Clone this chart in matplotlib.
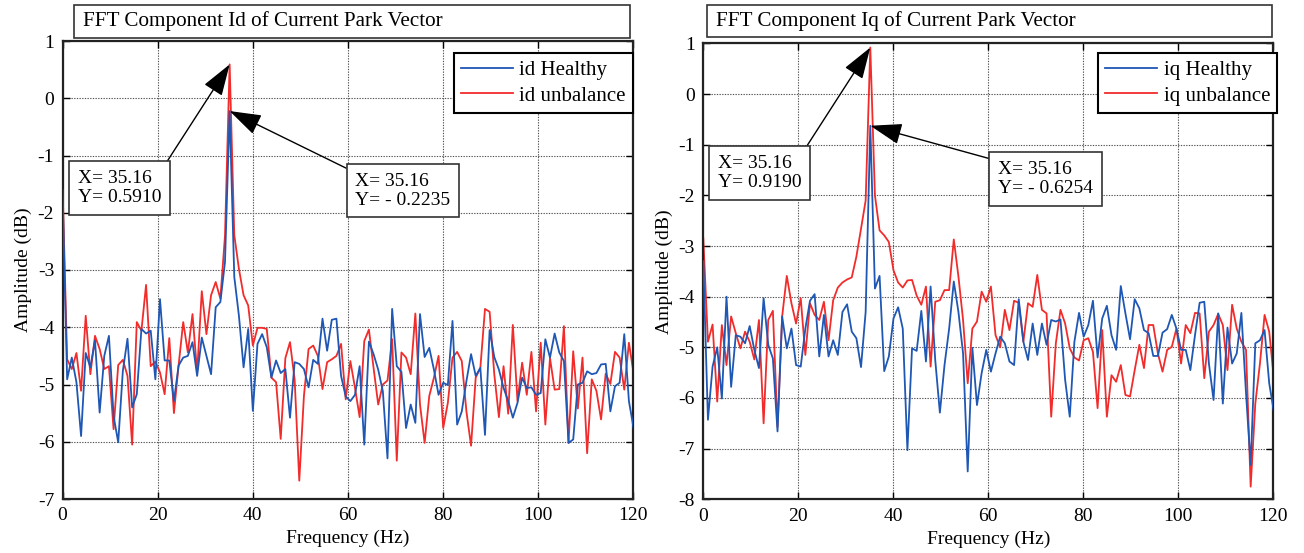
import numpy as np
import matplotlib
matplotlib.use("Agg")
import matplotlib.pyplot as plt
from matplotlib.patches import Rectangle

plt.rcParams['font.family'] = ['Liberation Serif', 'DejaVu Serif']
plt.rcParams['axes.unicode_minus'] = False

# ---- data -------------------------------------------------------------
bin_hz = 1000.0 / 1024.0                 # FFT bin width (35.16 Hz = bin 36)
freq = np.arange(124) * bin_hz

id_healthy = [
    -1.6, -4.91, -4.53, -4.96, -5.90, -4.45, -4.70, -4.23, -5.49, -4.50,
    -4.15, -5.55, -6.01, -4.76, -4.20, -5.40, -5.17, -4.03, -4.11, -4.06,
    -4.91, -3.51, -4.58, -4.58, -5.29, -4.67, -4.53, -4.50, -4.26, -4.85,
    -4.18, -4.50, -4.82, -3.65, -3.56, -2.86, -0.2235, -3.12, -3.80, -4.70,
    -4.03, -5.46, -4.29, -4.12, -4.35, -4.88, -4.58, -4.80, -4.73, -5.58,
    -4.61, -4.64, -4.73, -5.05, -4.57, -4.64, -3.85, -4.41, -3.87, -3.85,
    -4.85, -5.21, -5.29, -5.18, -4.68, -6.05, -4.25, -4.47, -4.74, -5.12,
    -6.29, -3.68, -4.68, -4.78, -5.76, -5.35, -5.67, -3.77, -4.52, -4.36,
    -4.74, -5.18, -4.97, -5.01, -3.89, -5.70, -5.47, -4.94, -4.47, -4.85,
    -4.71, -5.88, -4.05, -4.52, -4.74, -5.06, -5.29, -5.58, -5.32, -4.88,
    -5.06, -5.05, -5.18, -5.15, -4.21, -4.53, -4.11, -4.44, -4.59, -6.02,
    -5.96, -5.00, -4.97, -4.77, -4.82, -4.80, -4.65, -4.64, -5.47, -5.03,
    -4.97, -4.12, -5.29, -5.76]

id_unbalance = [
    -1.49, -4.56, -4.73, -4.45, -5.11, -3.80, -4.82, -4.15, -4.38, -4.73,
    -4.68, -5.78, -4.66, -4.57, -4.85, -6.05, -3.91, -4.06, -3.26, -4.68,
    -4.60, -4.79, -5.17, -4.19, -5.50, -4.67, -3.91, -4.44, -3.77, -4.79,
    -3.37, -4.12, -3.44, -3.21, -3.50, -2.40, 0.591, -2.39, -2.98, -3.44,
    -3.62, -4.32, -4.01, -4.01, -4.03, -4.88, -4.96, -5.95, -4.54, -4.26,
    -4.91, -6.68, -5.20, -4.38, -4.32, -4.50, -5.08, -4.61, -4.56, -4.50,
    -4.29, -5.26, -4.59, -5.06, -5.57, -4.24, -4.04, -4.71, -5.35, -5.00,
    -4.93, -4.21, -6.33, -4.44, -4.53, -4.82, -3.76, -5.35, -6.02, -5.20,
    -4.88, -4.50, -5.76, -5.32, -4.53, -4.43, -4.59, -5.47, -6.07, -4.88,
    -4.71, -3.68, -3.73, -4.82, -5.57, -4.68, -5.51, -3.96, -5.29, -4.62,
    -5.18, -4.43, -5.47, -4.27, -5.70, -4.54, -5.09, -5.08, -3.98, -6.02,
    -4.42, -5.42, -4.53, -6.20, -4.91, -5.11, -5.61, -4.81, -4.99, -4.43,
    -4.53, -5.09, -4.27, -4.80]

iq_healthy = [
    -3.3, -6.43, -5.38, -5.00, -6.01, -4.00, -5.78, -4.76, -4.79, -4.92,
    -4.58, -5.05, -5.41, -4.03, -4.95, -5.22, -6.66, -4.39, -5.02, -4.63,
    -5.35, -5.38, -4.63, -4.08, -3.95, -5.18, -4.36, -5.18, -4.86, -5.15,
    -4.30, -4.15, -4.69, -4.82, -5.39, -4.30, -0.6254, -3.84, -3.59, -5.47,
    -5.18, -4.43, -4.21, -4.63, -7.03, -5.02, -5.07, -4.28, -5.28, -3.80,
    -5.25, -6.29, -5.35, -4.63, -3.70, -4.30, -5.12, -7.45, -5.01, -6.14,
    -5.51, -5.05, -5.48, -5.12, -4.79, -4.92, -5.28, -5.35, -4.05, -4.89,
    -5.25, -4.53, -5.15, -4.53, -4.95, -4.46, -4.49, -4.45, -5.64, -6.37,
    -4.89, -4.32, -4.79, -4.56, -4.08, -5.20, -4.43, -4.18, -4.76, -5.05,
    -3.79, -4.33, -4.84, -4.05, -4.23, -4.66, -4.72, -5.17, -5.17, -4.71,
    -4.64, -4.36, -4.63, -5.05, -5.05, -5.45, -4.76, -4.12, -4.10, -5.32,
    -6.04, -4.33, -6.11, -4.61, -5.32, -5.12, -4.32, -5.91, -7.32, -4.92,
    -4.86, -4.66, -5.71, -6.27]

iq_unbalance = [
    -2.85, -4.89, -4.55, -6.07, -4.56, -5.35, -4.39, -4.72, -5.02, -4.69,
    -4.89, -5.24, -4.46, -6.50, -4.46, -4.28, -6.57, -4.39, -3.59, -4.13,
    -4.53, -4.03, -5.15, -4.13, -4.36, -4.46, -4.10, -4.86, -4.07, -3.82,
    -3.72, -3.66, -3.62, -3.21, -2.66, -2.10, 0.919, -2.00, -2.69, -2.79,
    -2.92, -3.48, -3.72, -3.82, -3.68, -3.67, -3.98, -4.16, -3.80, -5.38,
    -4.10, -4.07, -3.87, -3.87, -2.87, -3.60, -4.46, -5.71, -4.63, -4.49,
    -3.90, -4.10, -3.80, -4.76, -5.00, -4.26, -4.66, -4.08, -4.12, -4.89,
    -4.13, -4.20, -3.57, -4.26, -4.33, -6.37, -4.92, -4.26, -4.53, -5.02,
    -5.20, -5.26, -4.86, -4.82, -5.09, -6.20, -4.66, -6.37, -5.55, -5.68,
    -5.35, -5.94, -5.97, -5.45, -4.95, -5.41, -4.56, -4.56, -5.12, -5.48,
    -5.05, -4.99, -4.63, -5.32, -4.56, -4.72, -4.32, -4.33, -5.61, -4.69,
    -4.56, -4.34, -4.56, -5.45, -4.16, -4.63, -4.89, -5.05, -7.75, -6.11,
    -5.32, -4.36, -4.69, -5.61]

x_ticks = [0, 20, 40, 60, 80, 100, 120]
titles = ["FFT Component Id of Current Park Vector",
          "FFT Component Iq of Current Park Vector"]
labels_left = ["id Healthy", "id unbalance"]
labels_right = ["iq Healthy", "iq unbalance"]
peak_x = 35.16
peaks_left = [0.5910, -0.2235]
peaks_right = [0.9190, -0.6254]

BLUE = '#1f57b4'
RED = '#f22b2b'
FS = 14

W, H = 1304, 553
fig = plt.figure(figsize=(W / 100, H / 100), dpi=100)


def px_axes(x0, x1, y0, y1):
    return fig.add_axes([x0 / W, 1 - y1 / H, (x1 - x0) / W, (y1 - y0) / H])


ax1 = px_axes(62.5, 633, 41, 499)
ax2 = px_axes(703.3, 1273.3, 43.4, 499.3)


def style(ax, ylim, yticks):
    ax.set_xlim(0, 120)
    ax.set_ylim(*ylim)
    ax.set_xticks(x_ticks)
    ax.set_yticks(yticks)
    ax.tick_params(direction='in', top=True, right=True, length=5, width=1,
                   labelsize=FS, pad=6, colors='k')
    for s in ax.spines.values():
        s.set_linewidth(1.6)
        s.set_color('#222222')
    ax.grid(True, linestyle=(0, (1.2, 1.2)), color='#555555', linewidth=0.8)
    ax.set_axisbelow(True)
    ax.set_xlabel("Frequency (Hz)", fontsize=FS, labelpad=4)
    ax.set_ylabel("Amplitude (dB)", fontsize=FS, labelpad=4)


for ax, hb, ub, labs, top_px, ax_top, ax_h, right_off in [
        (ax1, id_healthy, id_unbalance, labels_left, 53, 41, 458, 0.0),
        (ax2, iq_healthy, iq_unbalance, labels_right, 53, 43.4, 455.9, 4.0)]:
    ax.plot(freq, hb, color=BLUE, lw=1.3, label=labs[0], zorder=3)
    ax.plot(freq, ub, color=RED, lw=1.3, label=labs[1], zorder=2)
    leg = ax.legend(loc='upper right', fontsize=15, fancybox=False,
                    edgecolor='black', framealpha=1, borderaxespad=0,
                    bbox_to_anchor=(1.0 + right_off / 570.0,
                                    1 - (top_px - ax_top) / ax_h),
                    handlelength=2.5, borderpad=0.35, labelspacing=0.3,
                    handletextpad=0.3)
    leg.get_frame().set_linewidth(1.5)
    leg.set_zorder(10)

style(ax1, (-7, 1), list(range(-7, 2)))
style(ax2, (-8, 1), list(range(-8, 2)))

# title boxes
for (x0, x1, y0, y1, t) in [(74, 630, 5, 38, titles[0]),
                            (707, 1272, 5, 37, titles[1])]:
    fig.patches.append(Rectangle((x0 / W, 1 - y1 / H), (x1 - x0) / W,
                                 (y1 - y0) / H, transform=fig.transFigure,
                                 fill=False, ec='#333333', lw=1.2))
    fig.text((x0 + 9) / W, 1 - (y0 + y1) / 2 / H, t, fontsize=15.2,
             ha='left', va='center')

arrow = dict(arrowstyle='-|>,head_length=0.9,head_width=0.3', color='k',
             lw=1.0, shrinkA=0, shrinkB=0, mutation_scale=22)
bbox = dict(boxstyle='square,pad=0.45', fc='white', ec='#333333', lw=1.2)


def txt_for(y):
    if y < 0:
        return "X= %.2f\nY= - %.4f" % (peak_x, -y)
    return "X= %.2f\nY= %.4f" % (peak_x, y)


def note(ax, y, txt_xy, rel):
    a = dict(arrow)
    a['relpos'] = rel
    ax.annotate(txt_for(y), xy=(peak_x, y), xytext=txt_xy,
                textcoords='data', fontsize=FS, ha='left', va='top',
                linespacing=1.15, bbox=bbox, arrowprops=a, zorder=12)


note(ax1, peaks_left[0], (3.3, -1.25), (1, 1))
note(ax1, peaks_left[1], (61.6, -1.3), (0, 1))
note(ax2, peaks_right[0], (3.0, -1.2), (1, 1))
note(ax2, peaks_right[1], (62.0, -1.32), (0, 1))

fig.savefig("out.png", dpi=100)
